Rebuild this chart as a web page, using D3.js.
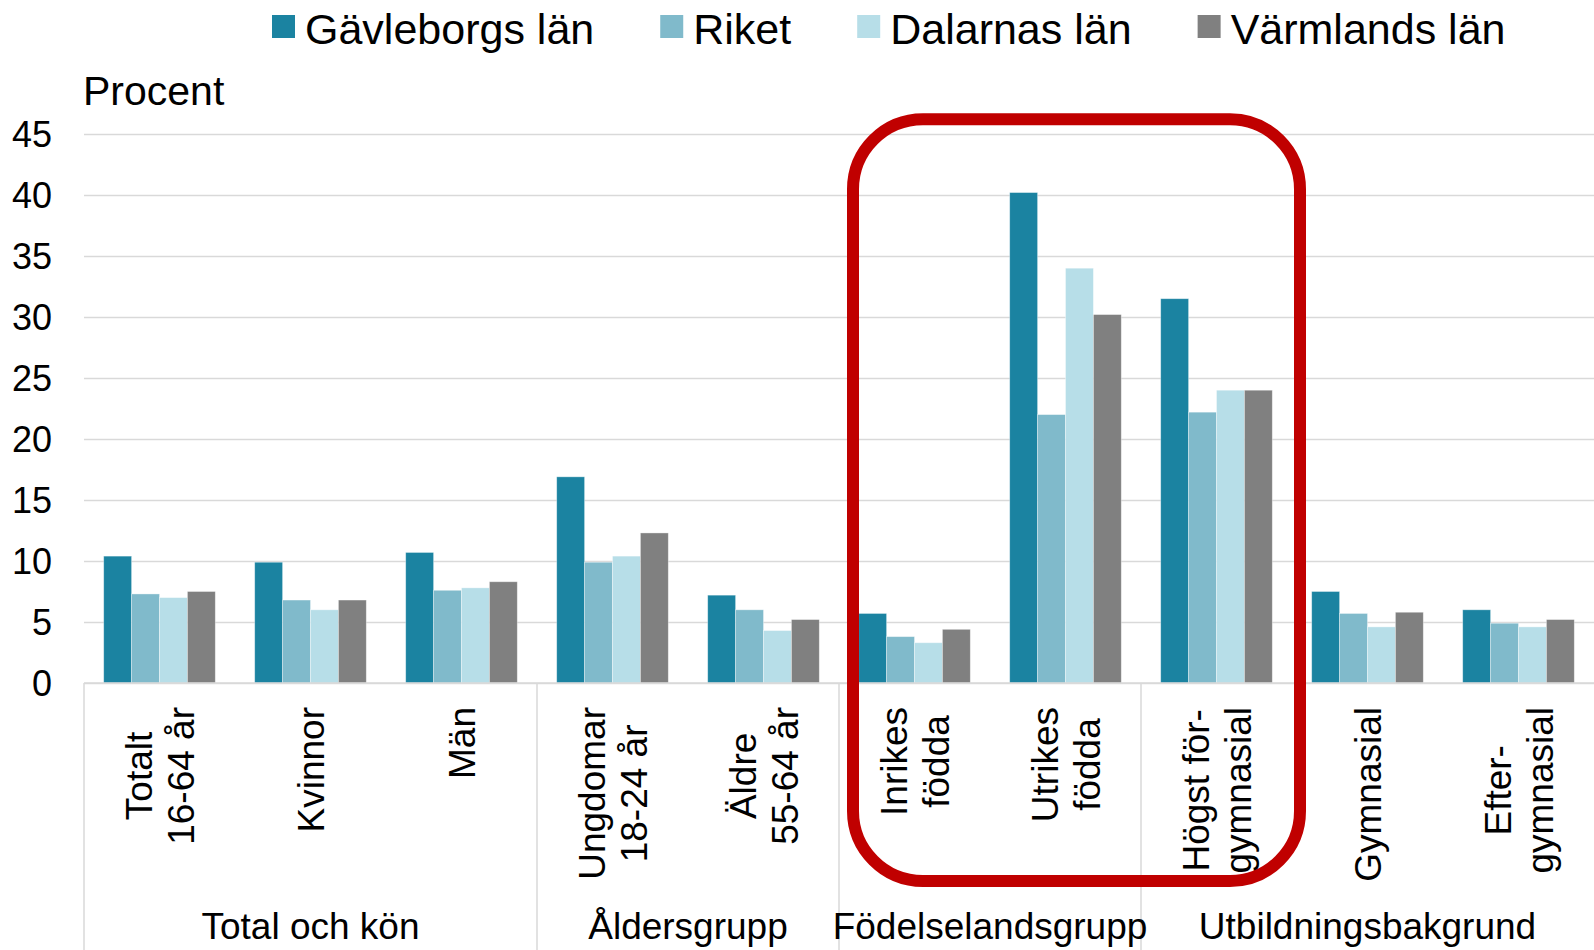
<!DOCTYPE html>
<html>
<head>
  <meta charset="utf-8">
  <title>Andel per grupp</title>
  <script src="https://cdn.jsdelivr.net/npm/d3@7"></script>
  <style>
    body { margin: 0; background: #fff; }
    svg text { font-family: "Liberation Sans", Arial, sans-serif; fill: #000; }
    .grid line { stroke: #d9d9d9; stroke-width: 1.3; }
    .grid path.domain { display: none; }
  </style>
</head>
<body>
<script>
  // categories along the x axis, each one split into the lines shown under the bars
  var categories = ["Totalt 16-64 år", "Kvinnor", "Män", "Ungdomar 18-24 år", "Äldre 55-64 år",
    "Inrikes födda", "Utrikes födda", "Högst förgymnasial", "Gymnasial", "Eftergymnasial"];
  var categoryLines = [["Totalt", "16-64 år"], ["Kvinnor"], ["Män"], ["Ungdomar", "18-24 år"], ["Äldre", "55-64 år"],
    ["Inrikes", "födda"], ["Utrikes", "födda"], ["Högst för-", "gymnasial"], ["Gymnasial"], ["Efter-", "gymnasial"]];

  // outer grouping of the categories
  var groups = ["Total och kön", "Åldersgrupp", "Födelselandsgrupp", "Utbildningsbakgrund"];
  var groupSizes = [3, 2, 2, 3];

  // series, procent
  var series = ["Gävleborgs län", "Riket", "Dalarnas län", "Värmlands län"];
  var gavleborg = [10.4, 9.9, 10.7, 16.9, 7.2, 5.7, 40.2, 31.5, 7.5, 6.0];
  var riket = [7.3, 6.8, 7.6, 9.9, 6.0, 3.8, 22.0, 22.2, 5.7, 4.9];
  var dalarna = [7.0, 6.0, 7.8, 10.4, 4.3, 3.3, 34.0, 24.0, 4.6, 4.6];
  var varmland = [7.5, 6.8, 8.3, 12.3, 5.2, 4.4, 30.2, 24.0, 5.8, 5.2];
  var colors = ["#1b83a1", "#80bacb", "#b7dee8", "#808080"];

  var yTicks = [0, 5, 10, 15, 20, 25, 30, 35, 40, 45];

  // highlighted categories (the red frame)
  var highlighted = ["Inrikes födda", "Utrikes födda", "Högst förgymnasial"];

  var values = [gavleborg, riket, dalarna, varmland];

  var W = 1594, H = 950;
  var margin = { left: 84, right: 0, top: 134, bottom: 267 };
  var width = W - margin.left - margin.right;

  var svg = d3.select("body").append("svg")
    .attr("width", W)
    .attr("height", H);

  var x = d3.scaleBand().domain(categories).range([margin.left, W - margin.right]).padding(0);
  var inset = 19.7;
  var x1 = d3.scaleBand().domain(series).range([inset, x.bandwidth() - inset]).padding(0);
  var y = d3.scaleLinear().domain([0, 45]).range([683, 134]);

  //gridlines + y tick labels
  var yAxis = d3.axisLeft(y)
    .tickValues(yTicks)
    .tickSize(-width)
    .tickPadding(32)
    .tickFormat(d3.format("d"));

  var gy = svg.append("g")
    .attr("class", "grid")
    .attr("transform", "translate(" + margin.left + ",0)")
    .call(yAxis);
  gy.selectAll("text")
    .style("font-size", "36px")
    .attr("dy", "0.35em");

  //bars
  var barG = svg.append("g");
  series.forEach(function (s, si) {
    barG.selectAll(".bar-" + si)
      .data(categories.map(function (c, ci) { return { cat: c, v: values[si][ci] }; }))
      .enter().append("rect")
      .attr("class", "bar-" + si)
      .attr("x", function (d) { return x(d.cat) + x1(s); })
      .attr("y", function (d) { return y(d.v); })
      .attr("width", x1.bandwidth())
      .attr("height", function (d) { return y(0) - y(d.v); })
      .attr("fill", colors[si])
      .attr("stroke", "rgba(255,255,255,0.45)")
      .attr("stroke-width", 0.8);
  });

  //category axis: baseline, left line, group separators
  var axisG = svg.append("g");
  axisG.append("line")
    .attr("x1", margin.left).attr("x2", W)
    .attr("y1", y(0)).attr("y2", y(0))
    .attr("stroke", "#d9d9d9").attr("stroke-width", 1.5);

  var bounds = [0];
  groupSizes.forEach(function (n, i) { bounds.push(bounds[i] + n); });

  bounds.slice(0, -1).forEach(function (b) {
    var bx = x(categories[b]);
    axisG.append("line")
      .attr("x1", bx).attr("x2", bx)
      .attr("y1", y(0)).attr("y2", H)
      .attr("stroke", "#d9d9d9").attr("stroke-width", 1.5);
  });

  //rotated category labels
  var lineGap = 42, capH = 26;
  categories.forEach(function (c, ci) {
    var lines = categoryLines[ci];
    var cx = x(c) + x.bandwidth() / 2;
    var g = axisG.append("g");
    var texts = lines.map(function (l, li) {
      var bx = cx + (li - (lines.length - 1) / 2) * lineGap + capH / 2;
      return g.append("text")
        .attr("text-anchor", "middle")
        .style("font-size", "37px")
        .text(l)
        .attr("data-x", bx);
    });
    var maxLen = d3.max(texts, function (t) { return t.node().getComputedTextLength(); });
    var cy = 707 + maxLen / 2;
    texts.forEach(function (t) {
      t.attr("transform", "translate(" + t.attr("data-x") + "," + cy + ") rotate(-90)");
    });
  });

  //group labels
  groups.forEach(function (gname, gi) {
    var a = x(categories[bounds[gi]]);
    var lastCat = categories[bounds[gi + 1] - 1];
    var b = x(lastCat) + x.bandwidth();
    axisG.append("text")
      .attr("x", (a + b) / 2)
      .attr("y", 939)
      .attr("text-anchor", "middle")
      .style("font-size", "37px")
      .text(gname);
  });

  //axis title
  svg.append("text")
    .attr("x", 83)
    .attr("y", 105)
    .style("font-size", "41px")
    .text("Procent");

  //legend
  var legend = svg.append("g").attr("transform", "translate(272,0)");
  var lx = 0;
  series.forEach(function (s, si) {
    legend.append("rect")
      .attr("x", lx).attr("y", 15)
      .attr("width", 23).attr("height", 23)
      .attr("fill", colors[si]);
    var t = legend.append("text")
      .attr("x", lx + 33)
      .attr("y", 44)
      .style("font-size", "43px")
      .text(s);
    lx += 33 + t.node().getComputedTextLength() + 66;
  });

  //red frame round the highlighted categories
  var fx0 = x(highlighted[0]) + 14;
  var fx1 = x(highlighted[highlighted.length - 1]) + x.bandwidth() + 8;
  svg.append("rect")
    .attr("x", fx0)
    .attr("y", y(46.2))
    .attr("width", fx1 - fx0)
    .attr("height", 881 - y(46.2))
    .attr("rx", 70).attr("ry", 70)
    .attr("fill", "none")
    .attr("stroke", "#c00000")
    .attr("stroke-width", 12);
</script>
</body>
</html>
